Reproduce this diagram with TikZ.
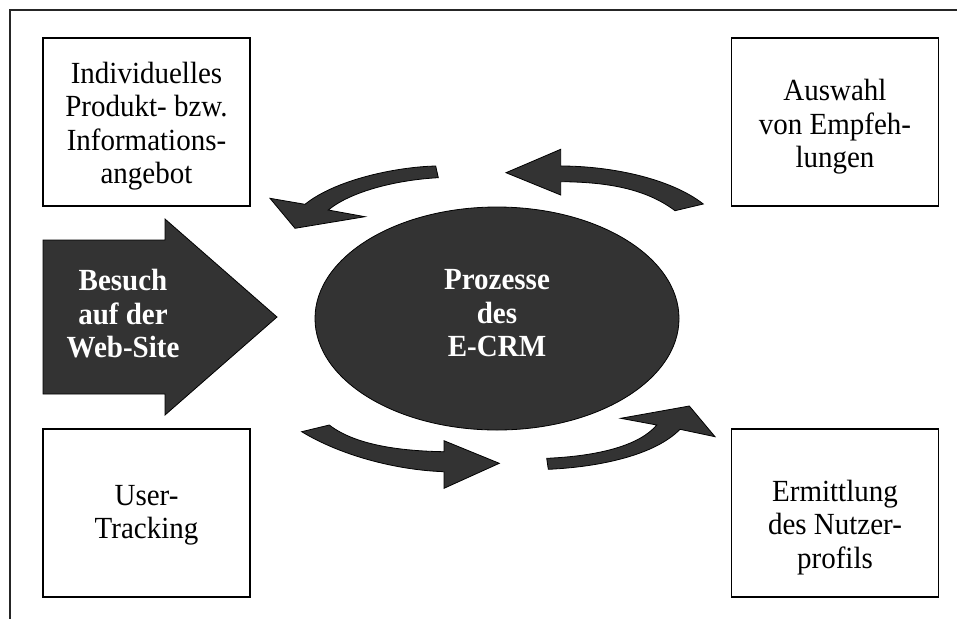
\documentclass[tikz,border=0pt]{standalone}
\usepackage{fontspec}
\usepackage{graphicx}
\setmainfont{Liberation Serif}
\definecolor{shapefill}{HTML}{333333}
\newcommand{\stretchtext}[1]{\scalebox{1}[1.06]{\begin{tabular}{@{}c@{}}#1\end{tabular}}}
\begin{document}
\begin{tikzpicture}[x=1pt,y=-1pt,
  box/.style={draw=black,line width=1.4pt,fill=white,minimum width=207pt,minimum height=168pt,inner sep=0pt},
  lbl/.style={font=\fontsize{29}{31.6}\selectfont,inner sep=0pt},
  blbl/.style={text=white,font=\fontsize{29}{31.6}\selectfont\bfseries,inner sep=0pt},
  dark/.style={fill=shapefill,draw=black,line width=0.8pt,line join=miter},
  frameline/.style={draw=black!85,line width=1.2pt}]
\useasboundingbox (0,0) rectangle (957,619);
% outer frame (partly cropped)
\draw[frameline] (957,10) -- (10,10) -- (10,619);
% boxes
\node[box] (b1) at (146.5,122) {};
\node[box] (b2) at (835,122) {};
\node[box] (b3) at (146.5,513) {};
\node[box] (b4) at (835,513) {};
\node[lbl] (t1) at (146.5,126.8) {\stretchtext{Individuelles\\Produkt- bzw.\\Informations-\\angebot}};
\node[lbl] (t2) at (835,127.4) {\stretchtext{Auswahl\\von Empfeh-\\lungen}};
\node[lbl] (t3) at (146.5,515.4) {\stretchtext{User-\\Tracking}};
\node[lbl] (t4) at (835,528.2) {\stretchtext{Ermittlung\\des Nutzer-\\profils}};
% big block arrow
\draw[dark] (43,240) -- (165,240) -- (165,219) -- (277,317) -- (165,415) -- (165,394) -- (43,394) -- cycle;
\node[blbl] (visit) at (123,317.6) {\stretchtext{Besuch\\auf der\\Web-Site}};
% central ellipse
\draw[dark] (497,318.5) ellipse [x radius=182, y radius=111.5];
\node[blbl] (ecrm) at (497,316.3) {\stretchtext{Prozesse\\des\\E-CRM}};
% curved arrows
\draw[dark] (435.7,166) .. controls (395,167) and (335,180) .. (305,204.3) -- (270,198.3) -- (295,228.3) -- (365,216.7) -- (328.3,210) .. controls (350,192) and (395,180) .. (438.3,177.7) -- cycle;
\draw[dark] (506,172.7) -- (560.7,149.3) -- (560.7,166) .. controls (610,166) and (670,178) .. (703.3,204) -- (675,210.7) .. controls (645,188) and (605,182) .. (560.7,181.7) -- (560.7,195) -- cycle;
\draw[dark] (329.3,425) .. controls (355,445) and (400,451) .. (444,451.7) -- (444,440.7) -- (499.3,463.3) -- (444,488.3) -- (444,471.7) .. controls (395,470) and (340,455) .. (301.7,431.7) -- cycle;
\draw[dark] (546.7,458.3) .. controls (600,456) and (640,445) .. (656.7,425) -- (620.7,418.3) -- (689.3,406) -- (715,436.7) -- (680,429.3) .. controls (655,455) and (600,467) .. (548.3,469.3) -- cycle;
\end{tikzpicture}
\end{document}
